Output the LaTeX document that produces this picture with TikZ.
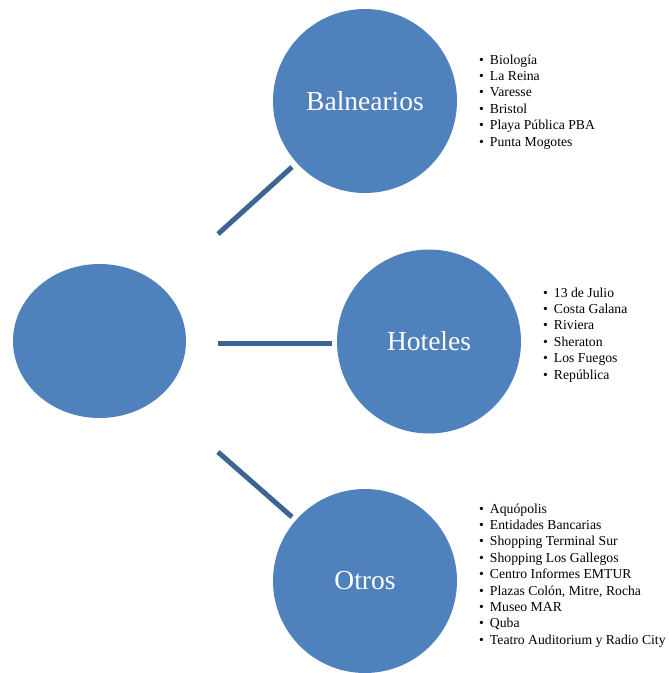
\documentclass[tikz,border=0pt]{standalone}
\usepackage{fontspec}
\setmainfont{Liberation Serif}
\usetikzlibrary{shapes.geometric}
\definecolor{fillblue}{HTML}{4F81BD}
\definecolor{lineblue}{HTML}{3C6594}
\begin{document}
\begin{tikzpicture}[x=1pt,y=-1pt,
  bubble/.style={circle,fill=fillblue,draw=none,minimum size=184pt,inner sep=0pt,
    text=white,font=\fontsize{27.5}{30}\selectfont},
  hub/.style={ellipse,fill=fillblue,draw=none,minimum width=173pt,minimum height=154pt,inner sep=0pt},
  link/.style={draw=lineblue,line width=5pt},
  itemlist/.style={anchor=base west,inner sep=0pt,font=\fontsize{13.7}{16.4}\selectfont}]
\useasboundingbox (0,0) rectangle (669,673);
\node[hub] (center) at (99.5,341) {};
\node[bubble] (balnearios) at (365,101) {Balnearios};
\node[bubble] (hoteles) at (429,341.5) {Hoteles};
\node[bubble] (otros) at (365,581) {Otros};
\coordinate (l1a) at (218,234); \coordinate (l1b) at (292,167);
\coordinate (l2a) at (218,343); \coordinate (l2b) at (332,343);
\coordinate (l3a) at (218,452); \coordinate (l3b) at (292,517);
\draw[link] (l1a) -- (l1b);
\draw[link] (l2a) -- (l2b);
\draw[link] (l3a) -- (l3b);
\node[itemlist] (listb) at (479,64) {\begin{tabular}[t]{@{}l@{\hspace{6pt}}l@{}}
•&Biología\\ •&La Reina\\ •&Varesse\\ •&Bristol\\ •&Playa Pública PBA\\ •&Punta Mogotes\end{tabular}};
\node[itemlist] (listh) at (543,297) {\begin{tabular}[t]{@{}l@{\hspace{6pt}}l@{}}
•&13 de Julio\\ •&Costa Galana\\ •&Riviera\\ •&Sheraton\\ •&Los Fuegos\\ •&República\end{tabular}};
\node[itemlist] (listo) at (479,513) {\begin{tabular}[t]{@{}l@{\hspace{6pt}}l@{}}
•&Aquópolis\\ •&Entidades Bancarias\\ •&Shopping Terminal Sur\\ •&Shopping Los Gallegos\\ •&Centro Informes EMTUR\\ •&Plazas Colón, Mitre, Rocha\\ •&Museo MAR\\ •&Quba\\ •&Teatro Auditorium y Radio City\end{tabular}};
\end{tikzpicture}
\end{document}
